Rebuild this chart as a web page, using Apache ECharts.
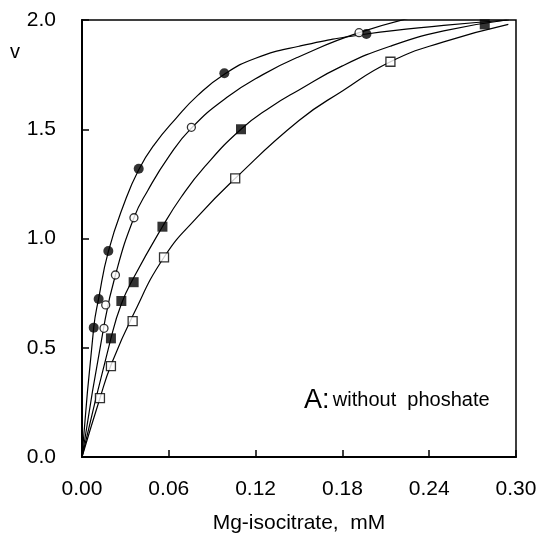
<!DOCTYPE html>
<html>
<head>
<meta charset="utf-8">
<script src="https://cdn.jsdelivr.net/npm/echarts@6/dist/echarts.min.js"></script>
<style>
html, body { margin: 0; padding: 0; background: #fff; }
#main { width: 548px; height: 542px; }
</style>
</head>
<body>
<div id="main"></div>
<script>
// measured points, [Mg-isocitrate mM, v]
const filledCircles = [[0.0081, 0.592], [0.0115, 0.723], [0.0182, 0.943], [0.0392, 1.319], [0.0984, 1.756], [0.1966, 1.936]]
const openCircles = [[0.0152, 0.589], [0.0164, 0.696], [0.0231, 0.833], [0.0359, 1.095], [0.0756, 1.509], [0.1915, 1.942]]
const filledSquares = [[0.0200, 0.543], [0.0272, 0.714], [0.0357, 0.800], [0.0556, 1.054], [0.1099, 1.500], [0.2784, 1.980]]
const openSquares = [[0.0124, 0.269], [0.0200, 0.416], [0.0350, 0.622], [0.0567, 0.914], [0.1059, 1.275], [0.2132, 1.809]]

// fitted curves
const curveFilledCircles = [[0, 0], [0.0081, 0.592], [0.0115, 0.725], [0.0182, 0.94], [0.0294, 1.165], [0.0392, 1.315], [0.05, 1.43], [0.065, 1.55], [0.08, 1.655], [0.0984, 1.752], [0.12, 1.825], [0.15, 1.88], [0.1966, 1.936], [0.25, 1.975], [0.295, 2.0]]
const curveOpenCircles = [[0, 0], [0.0152, 0.60], [0.0231, 0.833], [0.0359, 1.095], [0.0455, 1.22], [0.06, 1.375], [0.0756, 1.505], [0.10, 1.645], [0.125, 1.75], [0.15, 1.832], [0.1915, 1.942], [0.24, 2.03]]
const curveFilledSquares = [[0, 0], [0.0200, 0.543], [0.0272, 0.70], [0.0357, 0.82], [0.0556, 1.054], [0.0686, 1.19], [0.085, 1.33], [0.1099, 1.50], [0.13, 1.60], [0.15, 1.68], [0.18, 1.79], [0.213, 1.88], [0.25, 1.95], [0.2936, 2.0]]
const curveOpenSquares = [[0, 0], [0.0124, 0.269], [0.0200, 0.42], [0.0350, 0.645], [0.0567, 0.914], [0.08, 1.10], [0.1059, 1.275], [0.15, 1.54], [0.18, 1.675], [0.2132, 1.809], [0.25, 1.90], [0.2947, 1.98]]

const xTicks = [0, 0.06, 0.12, 0.18, 0.24, 0.30]
const yTicks = [0, 0.5, 1.0, 1.5, 2.0]

const font = 'Liberation Sans, Arial, sans-serif'
const chart = echarts.init(document.getElementById('main'))

const curve = function (data) {
    return {
        type: 'line',
        data: data,
        smooth: 0.5,
        symbol: 'none',
        lineStyle: { color: '#000', width: 1.2 },
        z: 2
    }
}

const marks = function (data, symbol, filled, size) {
    return {
        type: 'scatter',
        data: data,
        symbol: symbol,
        symbolSize: size,
        itemStyle: {
            color: filled ? '#000' : '#fff',
            borderColor: '#000',
            borderWidth: filled ? 0 : 1.3
        },
        z: 3
    }
}

const option = {
    animation: false,
    backgroundColor: '#fff',
    grid: {
        left: 82, right: 32, top: 20, bottom: 85,
        show: true, borderColor: '#000', borderWidth: 1.5
    },
    xAxis: {
        type: 'value',
        min: xTicks[0],
        max: xTicks[xTicks.length - 1],
        interval: 0.06,
        name: 'Mg-isocitrate,  mM',
        nameLocation: 'middle',
        nameGap: 56,
        nameTextStyle: { fontFamily: font, fontSize: 21, color: '#000' },
        axisLine: { lineStyle: { color: '#000', width: 2 } },
        axisTick: { inside: true, length: 7, lineStyle: { color: '#000', width: 1.5 } },
        axisLabel: {
            fontFamily: font, fontSize: 21, color: '#000', margin: 22,
            formatter: v => v.toFixed(2)
        },
        splitLine: { show: false }
    },
    yAxis: {
        type: 'value',
        min: yTicks[0],
        max: yTicks[yTicks.length - 1],
        interval: 0.5,
        axisLine: { lineStyle: { color: '#000', width: 2 } },
        axisTick: { inside: true, length: 7, lineStyle: { color: '#000', width: 1.5 } },
        axisLabel: {
            fontFamily: font, fontSize: 21, color: '#000', margin: 26,
            formatter: v => v.toFixed(1)
        },
        splitLine: { show: false }
    },
    graphic: [
        {
            type: 'text', left: 10, top: 42,
            style: { text: 'v', font: '20px ' + font, fill: '#000' }
        },
        {
            type: 'text', left: 304, top: 387,
            style: {
                text: '{a|A:} {b|without  phoshate}',
                rich: {
                    a: { fontFamily: font, fontSize: 27, fill: '#000' },
                    b: { fontFamily: font, fontSize: 20, fill: '#000' }
                }
            }
        }
    ],
    series: [
        curve(curveFilledCircles),
        curve(curveOpenCircles),
        curve(curveFilledSquares),
        curve(curveOpenSquares),
        marks(filledCircles, 'circle', true, 10),
        marks(openCircles, 'circle', false, 8),
        marks(filledSquares, 'rect', true, 10),
        marks(openSquares, 'rect', false, 9)
    ]
}

chart.setOption(option)
</script>
</body>
</html>
